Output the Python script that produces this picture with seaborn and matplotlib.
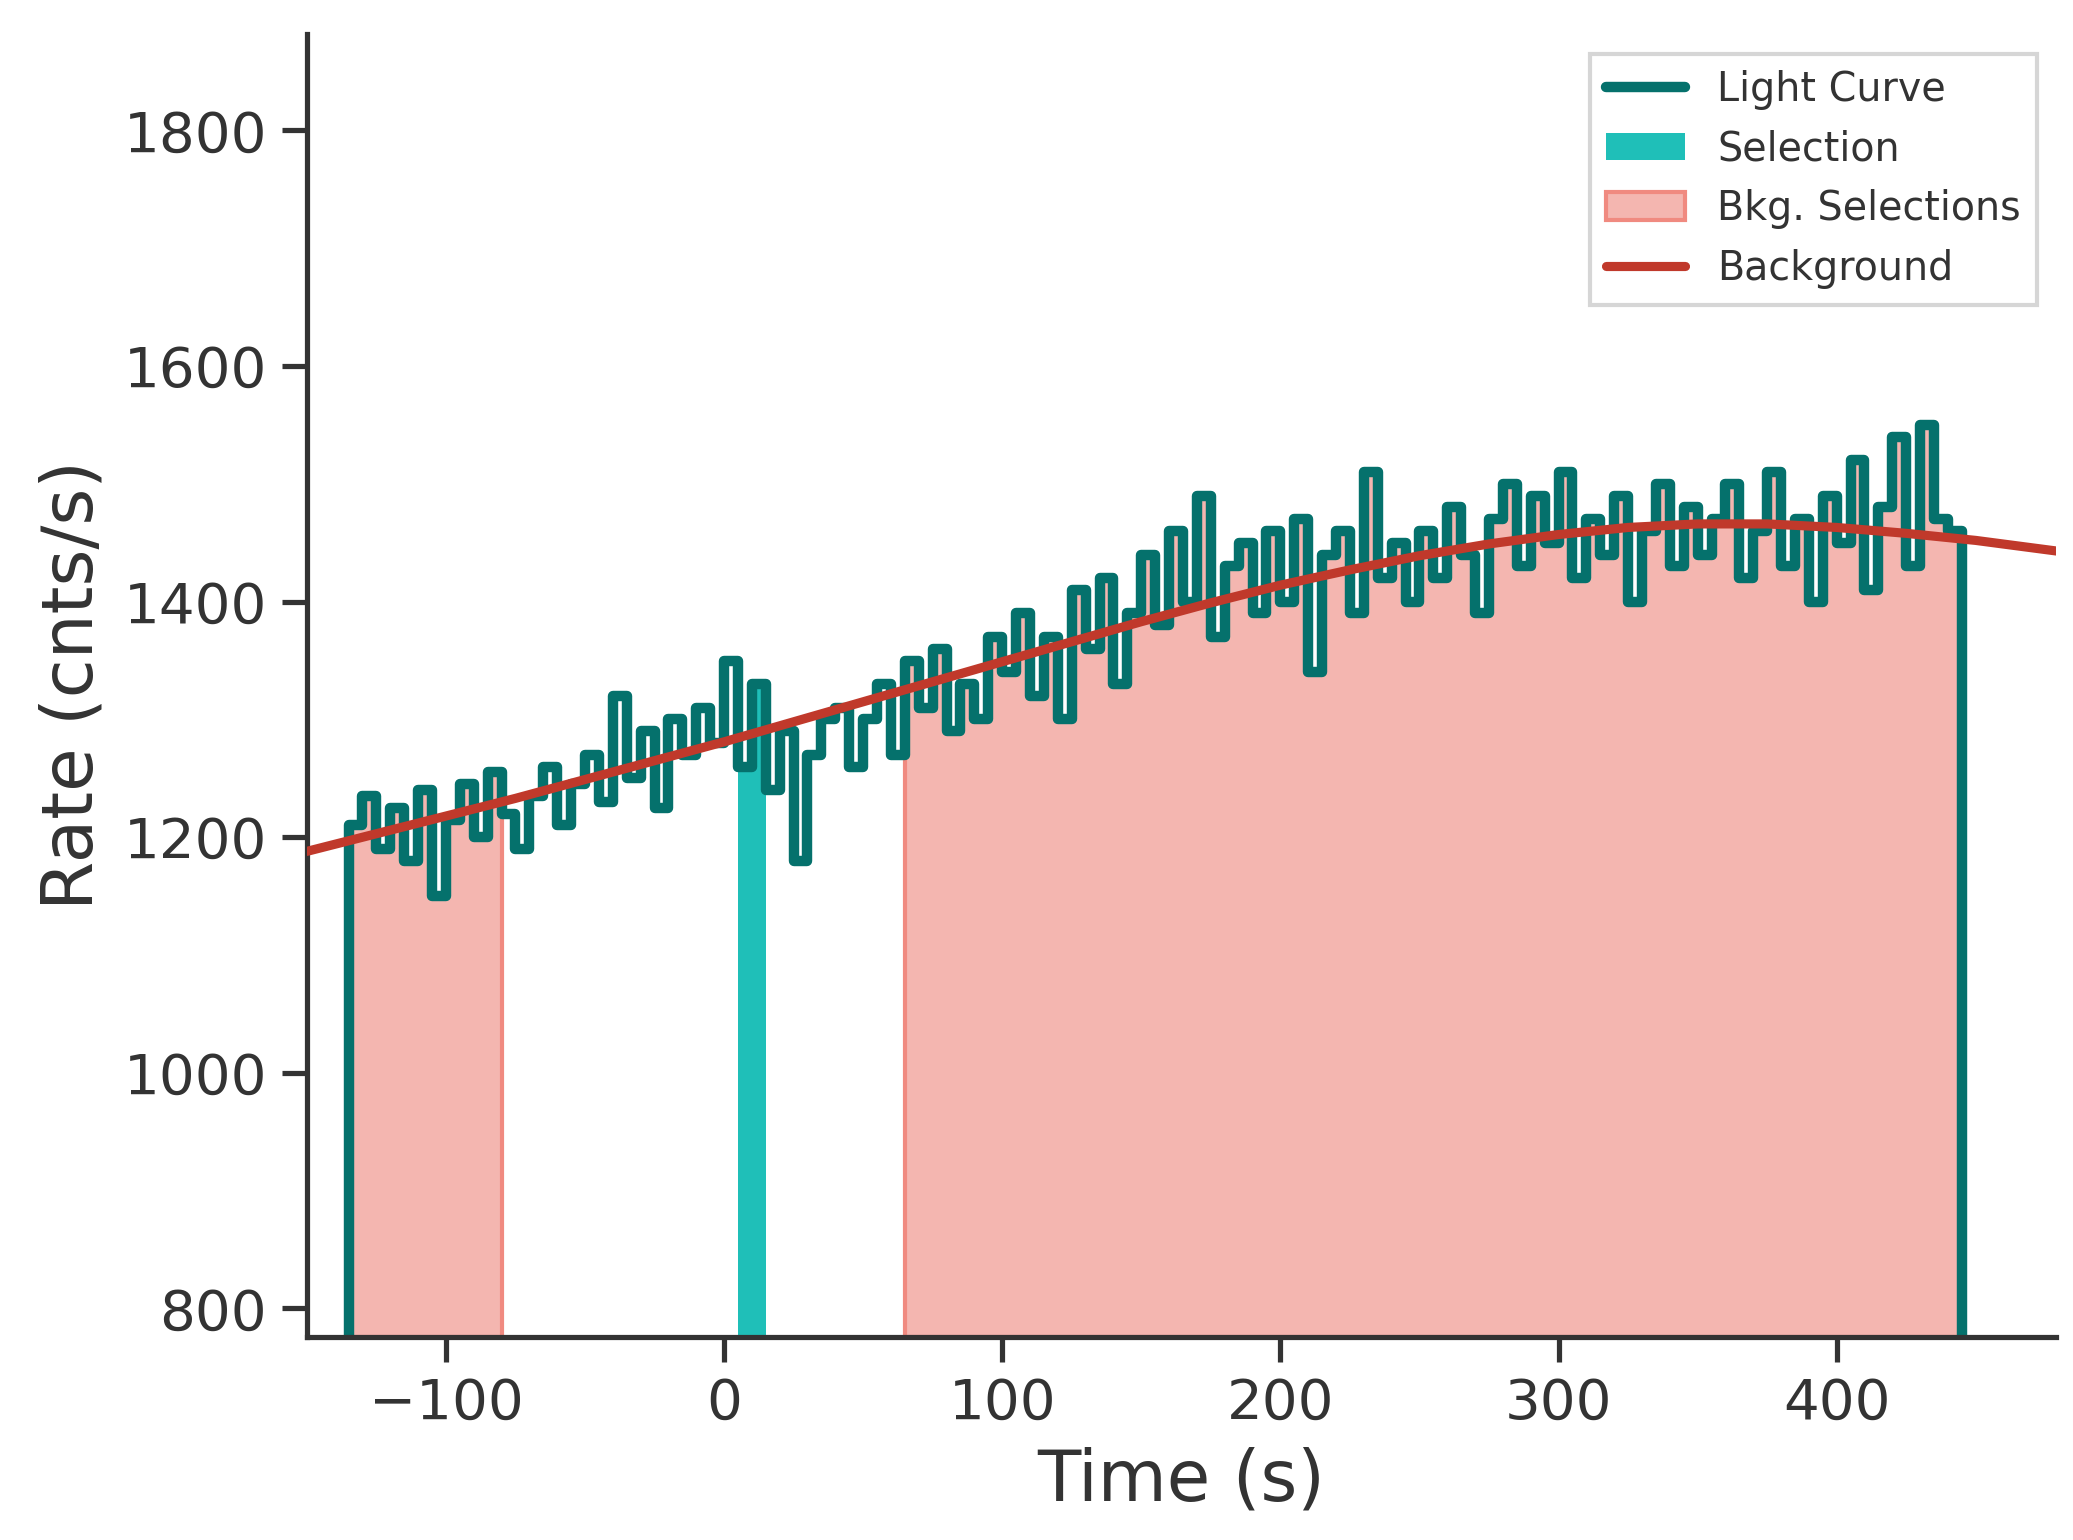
import numpy as np
import matplotlib
matplotlib.use("Agg")
import matplotlib.pyplot as plt
import seaborn as sns

# light curve: 5 s bins starting at -135 s
bin_start = -135
bin_width = 5
rates = [1210, 1235, 1190, 1225, 1180, 1240, 1150, 1215, 1245,
         1200, 1255, 1220, 1190, 1235, 1260, 1210, 1245,
         1270, 1230, 1320, 1250, 1290, 1225, 1300, 1270, 1310, 1280,
         1350, 1260, 1330, 1240, 1290, 1180, 1270, 1300, 1310, 1260,
         1300, 1330, 1270, 1350, 1310, 1360, 1290, 1330, 1300, 1370,
         1340, 1390, 1320, 1370, 1300, 1410, 1360, 1420, 1330, 1390,
         1440, 1380, 1460, 1400, 1490, 1370, 1430, 1450, 1390, 1460,
         1400, 1470, 1340, 1440, 1460, 1390, 1510, 1420, 1450, 1400,
         1460, 1420, 1480, 1440, 1390, 1470, 1500, 1430, 1490, 1450,
         1510, 1420, 1470, 1440, 1490, 1400, 1460, 1500, 1430, 1480,
         1440, 1470, 1500, 1420, 1460, 1510, 1430, 1470, 1400, 1490,
         1450, 1520, 1410, 1480, 1540, 1430, 1550, 1470, 1460]

bkg_time = [-150, -125, -100, -75, -50, -25, 0, 25, 50, 75, 100, 125, 150,
            175, 200, 225, 250, 275, 300, 325, 350, 375, 400, 425, 450, 479]
bkg_rate = [1188, 1203, 1218, 1233, 1249, 1265, 1281, 1298, 1315, 1332, 1349,
            1366, 1383, 1399, 1414, 1427, 1439, 1449, 1457, 1463, 1466, 1466,
            1463, 1458, 1452, 1443]

selection = (5, 15)
bkg_sel = [(-135, -80), (65, 445)]

sns.set_theme(style="ticks")
dark = "#333333"
plt.rcParams.update({"text.color": dark, "axes.labelcolor": dark,
                     "xtick.color": dark, "ytick.color": dark,
                     "axes.edgecolor": dark})

fig = plt.figure(figsize=(2073 / 300, 1540 / 300), dpi=300)
ax = fig.add_axes([0.148, 0.132, 0.844, 0.846])
ymin = 776

edges = bin_start + bin_width * np.arange(len(rates) + 1)
r = np.array(rates, dtype=float)
r_ext = np.append(r, r[-1])

for i, (a, b) in enumerate(bkg_sel):
    m = (edges >= a) & (edges <= b)
    ax.fill_between(edges[m], ymin, r_ext[m], step="post", color="#f4b6b0",
                    edgecolor="#f08a80", lw=1, zorder=1,
                    label="Bkg. Selections" if i == 0 else None)
m = (edges >= selection[0]) & (edges <= selection[1])
ax.fill_between(edges[m], ymin, r_ext[m], step="post", color="#1fbfb8",
                lw=0, zorder=1, label="Selection")

xs = np.concatenate([[edges[0]], edges, [edges[-1]]])
ys = np.concatenate([[ymin], r_ext, [ymin]])
ax.step(xs, ys, where="post", color="#05716c", lw=2.5, zorder=2, label="Light Curve")
sns.lineplot(x=bkg_time, y=bkg_rate, ax=ax, color="#c0392b", lw=2.2, zorder=3,
             label="Background")

ax.set_xlim(-150, 479)
ax.set_ylim(ymin, 1882)
ax.set_xticks([-100, 0, 100, 200, 300, 400])
ax.set_yticks([800, 1000, 1200, 1400, 1600, 1800])
ax.tick_params(labelsize=13.5)
ax.set_xlabel("Time (s)", fontsize=17)
ax.set_ylabel("Rate (cnts/s)", fontsize=17)
sns.despine(ax=ax)

h, l = ax.get_legend_handles_labels()
order = ["Light Curve", "Selection", "Bkg. Selections", "Background"]
hd = dict(zip(l, h))
ax.legend([hd[k] for k in order], order, loc="upper right", fontsize=9.5,
          frameon=True, fancybox=False)

fig.savefig("out.png", dpi=300)
